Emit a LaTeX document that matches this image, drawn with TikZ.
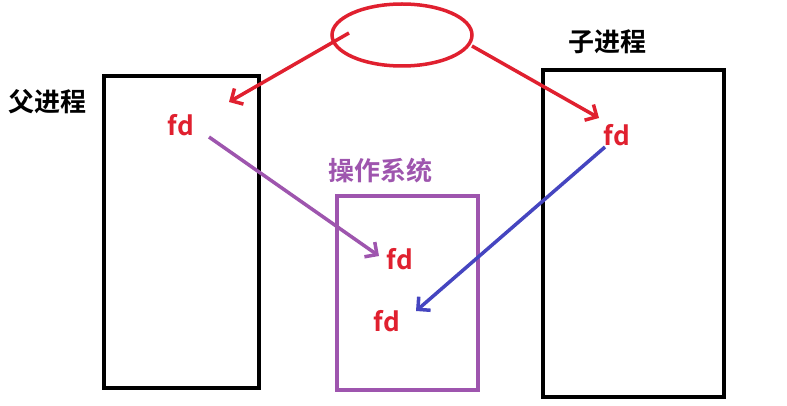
\documentclass[tikz,border=0pt]{standalone}
\usepackage{fontspec}
\setmainfont{Noto Sans CJK SC}
\newfontfamily\cjkb{Noto Sans CJK SC Bold}
\usetikzlibrary{arrows.meta}
\definecolor{fdred}{HTML}{E0202F}
\definecolor{ospurple}{HTML}{9E55AE}
\definecolor{arrblue}{HTML}{4545C0}
\tikzset{
  box/.style={draw=black, line width=4.5pt},
  osbox/.style={draw=ospurple, line width=4pt},
  fdlabel/.style={text=fdred, font=\cjkb\fontsize{26}{26}\selectfont, inner sep=0pt},
  title/.style={font=\cjkb\fontsize{26}{26}\selectfont, inner sep=0pt},
  arr/.style={line width=3.5pt, -{Straight Barb[length=9pt,width=18pt,line width=3.5pt]}}
}
\begin{document}
\begin{tikzpicture}[x=1pt,y=-1pt]
\useasboundingbox (0,0) rectangle (787,406);
\fill[white] (0,0) rectangle (787,406);
% boxes
\draw[box] (104,76) rectangle (259,388);
\draw[box] (543,70) rectangle (724,397);
\draw[osbox] (337,196) rectangle (478,390);
\draw[draw=fdred, line width=3.5pt] (402,35) ellipse [x radius=70, y radius=31];
% labels
\node[title] (parent) at (48,102) {父进程};
\node[title] (child) at (607,42) {子进程};
\node[title, text=ospurple] (os) at (380,171) {操作系统};
\node[fdlabel] (fdp) at (181,125) {fd};
\node[fdlabel] (fdc) at (617,135) {fd};
\node[fdlabel] (fdo1) at (400,259) {fd};
\node[fdlabel] (fdo2) at (387,321) {fd};
% connector endpoints
\coordinate (e1) at (349,33);
\coordinate (e2) at (472,46);
\coordinate (t1) at (229,102);
\coordinate (t2) at (599,118);
\coordinate (ps) at (209,137);
\coordinate (pt) at (379,256);
\coordinate (bs) at (605,147);
\coordinate (bt) at (416,311);
\draw[arr, draw=fdred] (e1) -- (t1);
\draw[arr, draw=fdred] (e2) -- (t2);
\draw[arr, draw=ospurple] (ps) -- (pt);
\draw[arr, draw=arrblue] (bs) -- (bt);
\end{tikzpicture}
\end{document}
